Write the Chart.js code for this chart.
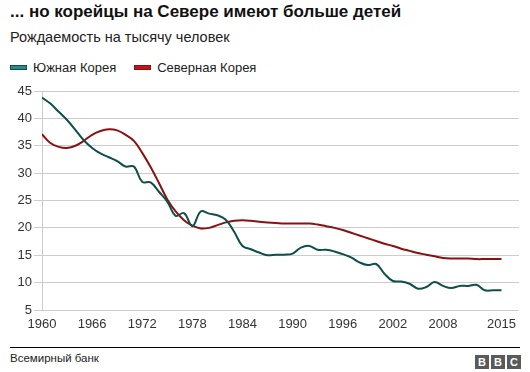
<!DOCTYPE html>
<html>
<head>
<meta charset="utf-8">
<script src="https://cdn.jsdelivr.net/npm/chart.js@4/dist/chart.umd.min.js"></script>
<style>
  body { margin: 0; width: 530px; height: 372px; background: #fff; position: relative; overflow: hidden;
         font-family: "Liberation Sans", Arial, sans-serif; color: #222; }
  .abs { position: absolute; white-space: nowrap; }
  #title { left: 10px; top: 2px; font-size: 17px; font-weight: bold; color: #111; }
  #subtitle { left: 10px; top: 29px; font-size: 14.5px; color: #222; }
  #legend { left: 10px; top: 60px; font-size: 13px; color: #222; }
  #legend span.item { display: inline-block; margin-right: 18px; }
  #legend i { display: inline-block; width: 15px; height: 3px; vertical-align: middle; margin-right: 6px;
              position: relative; top: -1px; }
  #chartBox { left: 0; top: 80px; width: 530px; height: 260px; }
  #rule { left: 10px; top: 347px; width: 510px; height: 1px; background: #000; }
  #source { left: 10px; top: 352px; font-size: 11.5px; color: #222; }
  #bbc { left: 475px; top: 352px; }
  #bbc b { display: inline-block; width: 14px; height: 14px; background: #5a5a5a; color: #fff; font-size: 11px;
           line-height: 14px; text-align: center; margin-right: 2px; font-family: "Liberation Sans", Arial, sans-serif; }
</style>
</head>
<body>
<div id="title" class="abs">... но корейцы на Севере имеют больше детей</div>
<div id="subtitle" class="abs">Рождаемость на тысячу человек</div>
<div id="legend" class="abs"></div>
<div id="chartBox" class="abs"><canvas id="chart"></canvas></div>
<div id="rule" class="abs"></div>
<div id="source" class="abs">Всемирный банк</div>
<div id="bbc" class="abs"><b>B</b><b>B</b><b>C</b></div>
<script>
const years = [1960, 1961, 1962, 1963, 1964, 1965, 1966, 1967, 1968, 1969,
  1970, 1971, 1972, 1973, 1974, 1975, 1976, 1977, 1978, 1979,
  1980, 1981, 1982, 1983, 1984, 1985, 1986, 1987, 1988, 1989,
  1990, 1991, 1992, 1993, 1994, 1995, 1996, 1997, 1998, 1999,
  2000, 2001, 2002, 2003, 2004, 2005, 2006, 2007, 2008, 2009,
  2010, 2011, 2012, 2013, 2014, 2015];

// Южная Корея
const southKorea = [43.8, 42.7, 41.2, 39.7, 37.9, 36.0, 34.6, 33.6, 32.9, 32.2,
  31.2, 31.2, 28.4, 28.3, 26.6, 24.8, 22.2, 22.7, 20.3, 23.0,
  22.6, 22.3, 21.5, 19.3, 16.7, 16.1, 15.5, 15.0, 15.1, 15.1,
  15.3, 16.4, 16.7, 16.0, 16.0, 15.7, 15.2, 14.6, 13.7, 13.2,
  13.4, 11.6, 10.3, 10.2, 9.8, 8.9, 9.2, 10.1, 9.4, 9.0,
  9.4, 9.4, 9.6, 8.6, 8.6, 8.6];

// Северная Корея
const northKorea = [37.1, 35.5, 34.8, 34.6, 35.0, 35.9, 37.0, 37.7, 38.0, 37.8,
  37.0, 35.9, 33.7, 31.1, 28.2, 25.2, 23.0, 21.4, 20.4, 19.9,
  20.0, 20.5, 21.0, 21.3, 21.4, 21.3, 21.1, 21.0, 20.9, 20.8,
  20.8, 20.8, 20.8, 20.6, 20.3, 20.0, 19.6, 19.1, 18.6, 18.1,
  17.6, 17.1, 16.7, 16.2, 15.8, 15.4, 15.1, 14.8, 14.5, 14.4,
  14.4, 14.4, 14.3, 14.3, 14.3, 14.3];

const xTicks = [1960, 1966, 1972, 1978, 1984, 1990, 1996, 2002, 2008, 2015];
const yTicks = [5, 10, 15, 20, 25, 30, 35, 40, 45];

const seriesNames = ["Южная Корея", "Северная Корея"];
const lineColors = ["#0e4f4b", "#8a1111"];
const swatchColors = ["#2a8a85", "#c0141a"];

const legend = document.getElementById("legend");
seriesNames.forEach((name, i) => {
    legend.innerHTML += `<span class="item"><i style="background:${swatchColors[i]};border:1px solid ${lineColors[i]}"></i>${name}</span>`;
});

const toPoints = (vals) => vals.map((v, i) => ({ x: years[i], y: v }));

const data = {
    datasets: [
        {
            label: seriesNames[0],
            data: toPoints(southKorea),
            borderColor: lineColors[0],
            backgroundColor: swatchColors[0],
            borderWidth: 2,
            pointRadius: 0,
            tension: 0.4
        },
        {
            label: seriesNames[1],
            data: toPoints(northKorea),
            borderColor: lineColors[1],
            backgroundColor: swatchColors[1],
            borderWidth: 2,
            pointRadius: 0,
            tension: 0.4
        }
    ]
};

const tickFont = { family: "'Liberation Sans', Arial, sans-serif", size: 13 };

const config = {
    type: 'line',
    data: data,
    options: {
        responsive: true,
        maintainAspectRatio: false,
        animation: false,
        layout: { padding: { top: 11, right: 11, bottom: 0, left: 0 } },
        plugins: {
            legend: { display: false },
            tooltip: { enabled: false }
        },
        scales: {
            x: {
                type: 'linear',
                min: 1960,
                max: 2017.1,
                afterBuildTicks: (axis) => { axis.ticks = xTicks.map(v => ({ value: v })); },
                afterFit: (axis) => { axis.height = 30; },
                grid: { display: false, drawTicks: false },
                border: { display: false },
                ticks: { font: tickFont, color: '#333', padding: 7, maxRotation: 0, autoSkip: false,
                         callback: (v) => String(v) }
            },
            y: {
                min: 5,
                max: 45,
                afterBuildTicks: (axis) => { axis.ticks = yTicks.map(v => ({ value: v })); },
                afterFit: (axis) => { axis.width = 42; },
                grid: { color: '#cccccc', lineWidth: 1, tickLength: 8, tickColor: '#cccccc' },
                border: { display: true, color: '#cccccc', width: 1 },
                ticks: { font: tickFont, color: '#333', padding: 2 }
            }
        }
    }
};

const myChart = new Chart(document.getElementById('chart'), config);
</script>
</body>
</html>
